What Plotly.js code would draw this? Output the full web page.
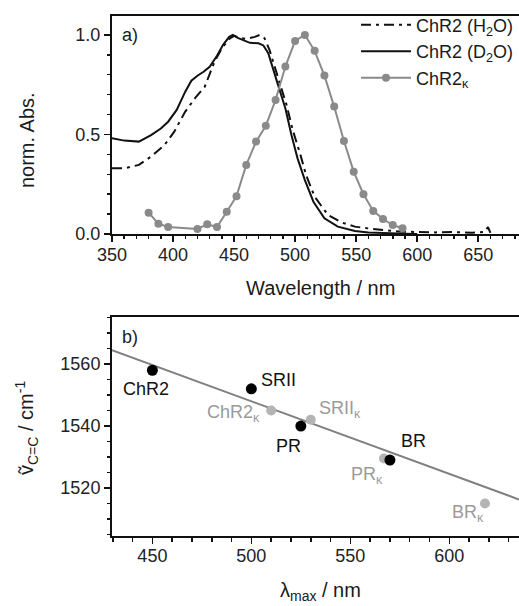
<!DOCTYPE html>
<html>
<head>
<meta charset="utf-8">
<script src="https://cdn.plot.ly/plotly-3.0.1.min.js"></script>
<style>html,body{margin:0;padding:0;background:#fff;}#chart{width:519px;height:606px;}</style>
</head>
<body>
<div id="chart"></div>
<script>
// ---------- Panel a) absorption spectra ----------
var h2oWl  = [350,360,372,382,393,401,410,418,426,434,440,446,450,455,460,467,471,475,479,483,487,493,498,504,509,516,527,538,549,557,565,573,585,600,615,630,645,655,658,660];
var h2oAbs = [0.33,0.33,0.347,0.389,0.447,0.514,0.615,0.682,0.74,0.866,0.933,0.98,0.995,0.985,0.98,0.99,1.0,0.983,0.925,0.85,0.766,0.648,0.523,0.405,0.296,0.187,0.095,0.058,0.037,0.03,0.025,0.02,0.012,0.01,0.008,0.01,0.006,0.01,0.035,0.005];

var d2oWl  = [350,360,372,382,390,396,403,410,415,420,425,430,436,441,446,449,453,457,463,470,474,478,482,486,492,497,502,508,515,524,535,549,560,575,590,600];
var d2oAbs = [0.481,0.469,0.464,0.497,0.53,0.564,0.623,0.715,0.77,0.795,0.815,0.84,0.895,0.95,0.99,1.0,0.985,0.975,0.96,0.958,0.947,0.908,0.833,0.749,0.632,0.497,0.38,0.271,0.162,0.079,0.037,0.015,0.008,0.003,0.001,0.0];

var kWl  = [380,388,396,420,428,436,444,452,460,468,476,484,492,500,508,516,524,532,540,548,556,564,572,580,588];
var kAbs = [0.107,0.052,0.035,0.025,0.049,0.035,0.112,0.19,0.347,0.464,0.544,0.673,0.841,0.97,1.0,0.92,0.796,0.64,0.467,0.313,0.199,0.116,0.075,0.045,0.029];

var seriesNames = ['ChR2 (H<sub>2</sub>O)', 'ChR2 (D<sub>2</sub>O)', 'ChR2<sub>κ</sub>'];

// ---------- Panel b) correlation ----------
var blackNames = ['ChR2','SRII','PR','BR'];
var blackLmax  = [450, 500, 525, 570];
var blackNu    = [1558, 1552, 1540, 1529];

var grayNames = ['ChR2<sub>κ</sub>','SRII<sub>κ</sub>','PR<sub>κ</sub>','BR<sub>κ</sub>'];
var grayLmax  = [510, 530, 567, 618];
var grayNu    = [1545, 1542, 1529.5, 1515];

var fitX = [429.6, 635.2];
var fitY = [1564.5, 1516.3];

// label offsets (px) – layout only
var blackShift = [[-6,-19],[27,9],[-12,-19.5],[24,19]];
var grayShift  = [[-38,-3],[29,10.7],[-17,-17],[-17,-10]];

var FONT = 'Liberation Sans, Arial, sans-serif';
var INK = '#111';
var GRAY_LINE = '#8a8a8a';
var GRAY_PT = '#b4b4b4';
var GRAY_TXT = '#9a9a9a';

var traces = [
  {x: h2oWl, y: h2oAbs, name: seriesNames[0], mode: 'lines', xaxis: 'x', yaxis: 'y',
   line: {color: INK, width: 2, dash: '10px,5px,3px,5px'}},
  {x: d2oWl, y: d2oAbs, name: seriesNames[1], mode: 'lines', xaxis: 'x', yaxis: 'y',
   line: {color: INK, width: 2}},
  {x: kWl, y: kAbs, name: seriesNames[2], mode: 'lines+markers', xaxis: 'x', yaxis: 'y',
   line: {color: GRAY_LINE, width: 2}, marker: {color: GRAY_LINE, size: 8}},
  {x: fitX, y: fitY, mode: 'lines', xaxis: 'x2', yaxis: 'y2', showlegend: false,
   line: {color: '#808080', width: 2}},
  {x: grayLmax, y: grayNu, mode: 'markers', xaxis: 'x2', yaxis: 'y2', showlegend: false,
   marker: {color: GRAY_PT, size: 10}},
  {x: blackLmax, y: blackNu, mode: 'markers', xaxis: 'x2', yaxis: 'y2', showlegend: false,
   marker: {color: '#000', size: 11}}
];

function axisBase(extra) {
  var a = {
    showline: true, linecolor: INK, linewidth: 2,
    ticks: 'outside', ticklen: 6, tickwidth: 1.5, tickcolor: INK,
    showgrid: false, zeroline: false,
    tickfont: {family: FONT, size: 18, color: '#222'}
  };
  for (var k in extra) a[k] = extra[k];
  return a;
}
var minorX = {dtick: 10, ticklen: 3.5, tickwidth: 1.5, tickcolor: INK, ticks: 'outside', showgrid: false};

var annotations = [];
function paperText(text, x, y, size, angle) {
  annotations.push({text: text, xref: 'paper', yref: 'paper', x: x, y: y,
    xanchor: 'center', yanchor: 'middle', showarrow: false, textangle: angle || 0,
    font: {family: FONT, size: size, color: '#1a1a1a'}});
}
paperText('Wavelength / nm', 0.5135, 0.476, 20);
paperText('λ<sub>max</sub> / nm', 0.5135, -0.107, 20);
paperText('norm. Abs.', -0.2088, 0.7615, 20, -90);
paperText('ṽ<sub>C=C</sub> / cm<sup>-1</sup>', -0.2088, 0.2077, 20, -90);
paperText('a)', 0.0442, 0.9635, 18);
paperText('b)', 0.0442, 0.3827, 18);

blackNames.forEach(function(n, i) {
  annotations.push({text: n, xref: 'x2', yref: 'y2', x: blackLmax[i], y: blackNu[i],
    xshift: blackShift[i][0], yshift: blackShift[i][1], showarrow: false,
    xanchor: 'center', yanchor: 'middle', font: {family: FONT, size: 18, color: INK}});
});
grayNames.forEach(function(n, i) {
  annotations.push({text: n, xref: 'x2', yref: 'y2', x: grayLmax[i], y: grayNu[i],
    xshift: grayShift[i][0], yshift: grayShift[i][1], showarrow: false,
    xanchor: 'center', yanchor: 'middle', font: {family: FONT, size: 18, color: GRAY_TXT}});
});

var layout = {
  width: 519, height: 606,
  margin: {l: 112, r: 0, t: 16, b: 70, pad: 0},
  paper_bgcolor: '#fff', plot_bgcolor: '#fff',
  showlegend: true,
  legend: {x: 0.6, xanchor: 'left', y: 1.018, yanchor: 'top', bgcolor: 'rgba(0,0,0,0)',
    font: {family: FONT, size: 18, color: '#1a1a1a'}, itemwidth: 50, tracegroupgap: 0},
  xaxis: axisBase({domain: [0, 1], anchor: 'y', range: [350, 683.4], tick0: 350, dtick: 50,
    mirror: true, minor: minorX, ticklabelstandoff: -3}),
  yaxis: axisBase({domain: [0.5808, 1], anchor: 'x', range: [0, 1.095], tick0: 0, dtick: 0.5,
    tickformat: '.1f', minor: {dtick: 0.1, ticklen: 3.5, tickwidth: 1.5, tickcolor: INK, ticks: 'outside', showgrid: false}}),
  xaxis2: axisBase({domain: [0, 1], anchor: 'y2', range: [429.6, 635.2], tick0: 450, dtick: 50,
    mirror: true, minor: minorX, ticklabelstandoff: -4}),
  yaxis2: axisBase({domain: [0, 0.4212], anchor: 'x2', range: [1504.5, 1575.2], tick0: 1520, dtick: 20,
    minor: {dtick: 5, ticklen: 3.5, tickwidth: 1.5, tickcolor: INK, ticks: 'outside', showgrid: false}}),
  annotations: annotations
};

Plotly.newPlot('chart', traces, layout, {staticPlot: true, displayModeBar: false});
</script>
</body>
</html>
